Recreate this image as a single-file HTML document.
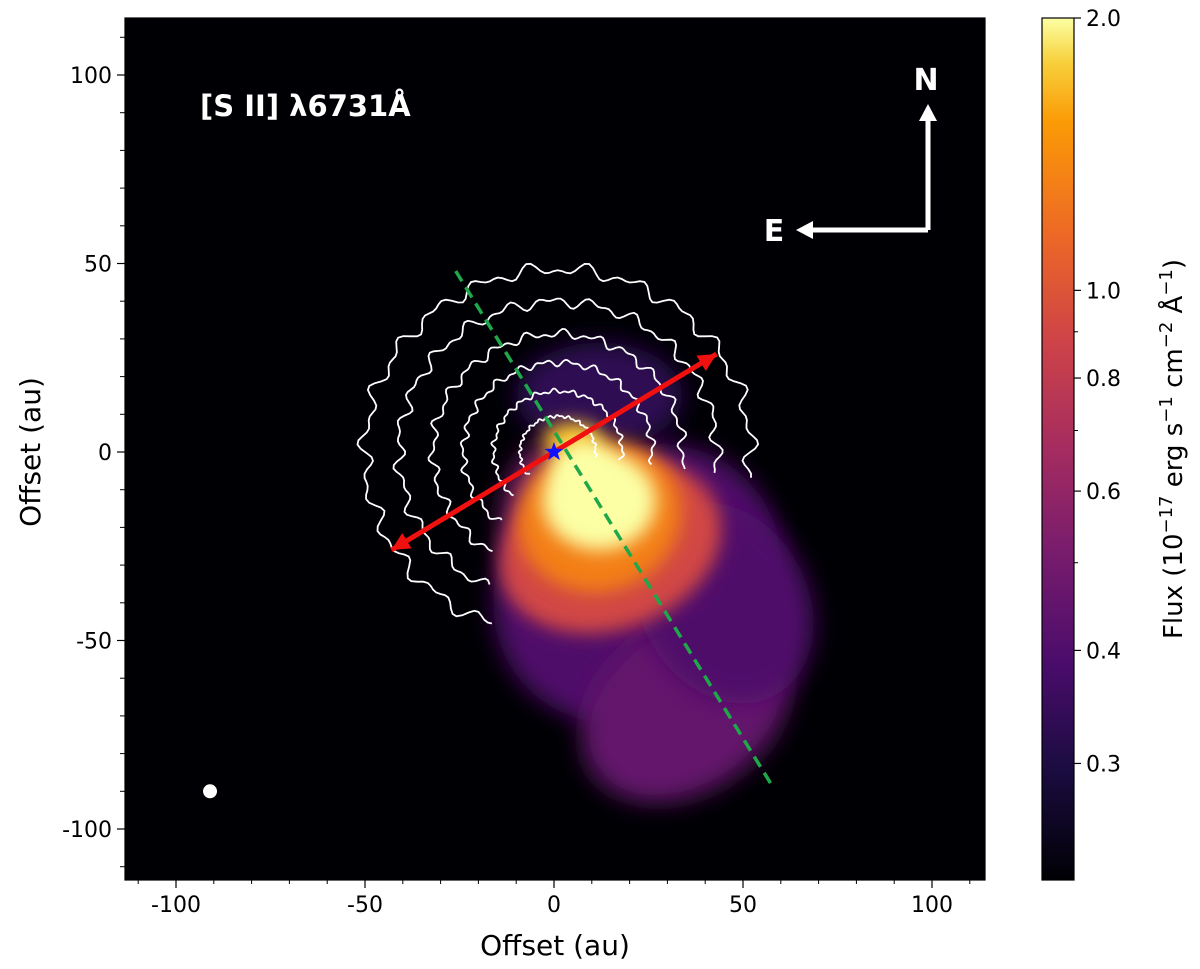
<!DOCTYPE html>
<html><head><meta charset="utf-8"><style>
body{margin:0;background:#fff;}
svg text{font-family:"DejaVu Sans","Liberation Sans",sans-serif;}
</style></head><body>
<svg id="fig" width="1200" height="964" xmlns="http://www.w3.org/2000/svg">
<defs>
<linearGradient id="inferno" x1="0" y1="1" x2="0" y2="0">
<stop offset="0" stop-color="#000004"/><stop offset="0.13" stop-color="#1b0c41"/><stop offset="0.25" stop-color="#4a0c6b"/><stop offset="0.38" stop-color="#781c6d"/><stop offset="0.5" stop-color="#a52c60"/><stop offset="0.63" stop-color="#cf4446"/><stop offset="0.75" stop-color="#ed6925"/><stop offset="0.88" stop-color="#fb9b06"/><stop offset="0.95" stop-color="#f7d13d"/><stop offset="1" stop-color="#fcffa4"/>
</linearGradient>
<filter id="blur" x="-50%" y="-50%" width="200%" height="200%"><feGaussianBlur stdDeviation="12"/></filter>
<filter id="blur2" x="-50%" y="-50%" width="200%" height="200%"><feGaussianBlur stdDeviation="9"/></filter>
<clipPath id="plotclip"><rect x="125" y="18" width="860" height="862"/></clipPath>
</defs>
<rect x="125" y="18" width="860" height="862" fill="#000004"/>
<g id="blobs" clip-path="url(#plotclip)"></g>
<g id="contours" clip-path="url(#plotclip)"></g>
<g id="overlay"></g>
<g id="axes"></g>
<g id="cbar"></g>
</svg>
<script>
const xTicks=[-100,-50,0,50,100];
const yTicks=[-100,-50,0,50,100];
const xMinor=[-110,-90,-80,-70,-60,-40,-30,-20,-10,10,20,30,40,60,70,80,90,110];
const cbTicks=[2.0,1.0,0.8,0.6,0.4,0.3];
const cbTickLabels=["2.0","1.0","0.8","0.6","0.4","0.3"];
const cbMinor=[0.5,0.7,0.9];
// emission blobs: [xCenter, yCenter, rx, ry, flux, rotation]
const blobX=[22,35,12,45,-2,15,12,12,5,8];
const blobY=[-35,-68,15,-40,-20,-25,-17,-13,3,-5];
const blobRX=[40,30,22,22,12,30,22,15,8,8];
const blobRY=[35,22,14,28,22,22,20,13,5,8];
const blobFlux=[0.4,0.45,0.33,0.4,0.5,0.9,1.3,2.0,1.7,2.0];
const blobRot=[-40,-35,0,-30,0,-20,-20,0,0,0];
const contourR=[51,42,33,25,17,10];
const redArrow=[[-43,-26],[43,26]];
const greenLine=[[-26,48],[58,-89]];
const star=[0,0];
const beam=[-91,-90];

const NS="http://www.w3.org/2000/svg";
const X=v=>554+v*3.78, Y=v=>452-v*3.77;
const cbTop=18,cbBot=880,vMin=0.223,vMax=2.0;
const CB=v=>cbBot-(Math.log10(v)-Math.log10(vMin))/(Math.log10(vMax)-Math.log10(vMin))*(cbBot-cbTop);
const stops=[[0,"#000004"],[0.13,"#1b0c41"],[0.25,"#4a0c6b"],[0.38,"#781c6d"],[0.5,"#a52c60"],[0.63,"#cf4446"],[0.75,"#ed6925"],[0.88,"#fb9b06"],[0.95,"#f7d13d"],[1,"#fcffa4"]];
function cmap(v){const t=Math.max(0,Math.min(1,(Math.log10(v)-Math.log10(vMin))/(Math.log10(vMax)-Math.log10(vMin))));
for(let i=1;i<stops.length;i++){if(t<=stops[i][0]){const a=stops[i-1],b=stops[i],f=(t-a[0])/(b[0]-a[0]);
const h=s=>[1,3,5].map(k=>parseInt(s.substr(k,2),16));const ca=h(a[1]),cb=h(b[1]);
return "rgb("+ca.map((c,k)=>Math.round(c+(cb[k]-c)*f)).join(",")+")";}}return stops[stops.length-1][1];}
function el(tag,attrs,parent){const e=document.createElementNS(NS,tag);for(const k in attrs)e.setAttribute(k,attrs[k]);parent.appendChild(e);return e;}

const gB=document.getElementById('blobs');
blobX.forEach((bx,i)=>{
const e=el('ellipse',{cx:X(bx),cy:Y(blobY[i]),rx:blobRX[i]*3.78,ry:blobRY[i]*3.77,fill:cmap(blobFlux[i]),filter:i<5?'url(#blur)':'url(#blur2)',transform:`rotate(${blobRot[i]} ${X(bx)} ${Y(blobY[i])})`},gB);


});

const gC=document.getElementById('contours');
contourR.forEach((r,i)=>{
let d="";const a0=-8*Math.PI/180,a1=(250-i*6)*Math.PI/180;const n=200;
for(let k=0;k<=n;k++){const a=a0+(a1-a0)*k/n;const w=1+0.025*Math.sin(a*23+i*2)+0.02*Math.sin(a*41+i);
const px=X(1+r*w*Math.cos(a)),py=Y(r*0.95*w*Math.sin(a));d+=(k?"L":"M")+px.toFixed(1)+","+py.toFixed(1);}
const p=el('path',{d:d,fill:'none',stroke:'#fff','stroke-width':1.8},gC);


});

const gO=document.getElementById('overlay');
let g=el('line',{x1:X(greenLine[0][0]),y1:Y(greenLine[0][1]),x2:X(greenLine[1][0]),y2:Y(greenLine[1][1]),stroke:'#1fa84a','stroke-width':3.5,'stroke-dasharray':'12,7'},gO);


const ax1=X(redArrow[0][0]),ay1=Y(redArrow[0][1]),ax2=X(redArrow[1][0]),ay2=Y(redArrow[1][1]);
let r=el('line',{x1:ax1,y1:ay1,x2:ax2,y2:ay2,stroke:'#f01010','stroke-width':5},gO);


function head(x,y,fx,fy,col,len,wd){const dx=x-fx,dy=y-fy,L=Math.hypot(dx,dy),ux=dx/L,uy=dy/L;
return el('polygon',{points:`${x},${y} ${x-ux*len-uy*wd},${y-uy*len+ux*wd} ${x-ux*len+uy*wd},${y-uy*len-ux*wd}`,fill:col},gO);}
let h1=head(ax1,ay1,ax2,ay2,'#f01010',18,9);
let h2=head(ax2,ay2,ax1,ay1,'#f01010',18,9);
(function(){const cx=X(star[0]),cy=Y(star[1]);let pts=[];for(let k=0;k<10;k++){const a=-Math.PI/2+k*Math.PI/5,rr=k%2?4:10;pts.push((cx+rr*Math.cos(a)).toFixed(1)+","+(cy+rr*Math.sin(a)).toFixed(1));}
const s=el('polygon',{points:pts.join(" "),fill:'#1010ff'},gO);})();
let b=el('circle',{cx:X(beam[0]),cy:Y(beam[1]),r:7,fill:'#fff'},gO);


let t=el('text',{x:200,y:116,fill:'#fff','font-size':29,'font-weight':'bold'},gO);t.textContent="[S II] λ6731Å";


let c1=el('path',{d:'M928,230 L928,118 M928,230 L812,230',stroke:'#fff','stroke-width':5,fill:'none'},gO);


el('polygon',{points:'928,104 919,121 937,121',fill:'#fff'},gO);
el('polygon',{points:'796,230 813,221 813,239',fill:'#fff'},gO);
let tn=el('text',{x:926,y:90,fill:'#fff','font-size':30,'font-weight':'bold','text-anchor':'middle'},gO);tn.textContent="N";


let te=el('text',{x:774,y:241,fill:'#fff','font-size':30,'font-weight':'bold','text-anchor':'middle'},gO);te.textContent="E";



const gA=document.getElementById('axes');
el('rect',{x:125,y:18,width:860,height:862,fill:'none',stroke:'#000','stroke-width':1.2},gA);
xTicks.forEach(v=>{el('line',{x1:X(v),x2:X(v),y1:880,y2:888,stroke:'#000','stroke-width':1.2},gA);
const tx=el('text',{x:X(v),y:912,'font-size':22,'text-anchor':'middle'},gA);tx.textContent=v;
});
xMinor.forEach(v=>{el('line',{x1:X(v),x2:X(v),y1:880,y2:884,stroke:'#000'},gA);el('line',{x1:120,x2:125,y1:Y(v),y2:Y(v),stroke:'#000'},gA);});
yTicks.forEach(v=>{el('line',{x1:117,x2:125,y1:Y(v),y2:Y(v),stroke:'#000','stroke-width':1.2},gA);
const ty=el('text',{x:112,y:Y(v)+8,'font-size':22,'text-anchor':'end'},gA);ty.textContent=v;
});
let xl=el('text',{x:555,y:955,'font-size':28,'text-anchor':'middle'},gA);xl.textContent="Offset (au)";

let yl=el('text',{x:0,y:0,'font-size':28,'text-anchor':'middle',transform:'translate(40,452) rotate(-90)'},gA);yl.textContent="Offset (au)";


const gCb=document.getElementById('cbar');
let cr=el('rect',{x:1042,y:cbTop,width:32,height:cbBot-cbTop,fill:'url(#inferno)',stroke:'#000','stroke-width':1.2},gCb);

cbTicks.forEach((v,i)=>{el('line',{x1:1074,x2:1081,y1:CB(v),y2:CB(v),stroke:'#000','stroke-width':1.2},gCb);
const tt=el('text',{x:1086,y:CB(v)+8,'font-size':22},gCb);tt.textContent=cbTickLabels[i];
});
cbMinor.forEach(v=>el('line',{x1:1074,x2:1078,y1:CB(v),y2:CB(v),stroke:'#000'},gCb));
let cl=el('text',{x:0,y:0,'font-size':26,'text-anchor':'middle',transform:'translate(1182,449) rotate(-90)'},gCb);
cl.innerHTML='Flux (10<tspan dy="-10" font-size="18">−17</tspan><tspan dy="10"> erg s</tspan><tspan dy="-10" font-size="18">−1</tspan><tspan dy="10"> cm</tspan><tspan dy="-10" font-size="18">−2</tspan><tspan dy="10"> Å</tspan><tspan dy="-10" font-size="18">−1</tspan><tspan dy="10">)</tspan>';

</script>
</body></html>
